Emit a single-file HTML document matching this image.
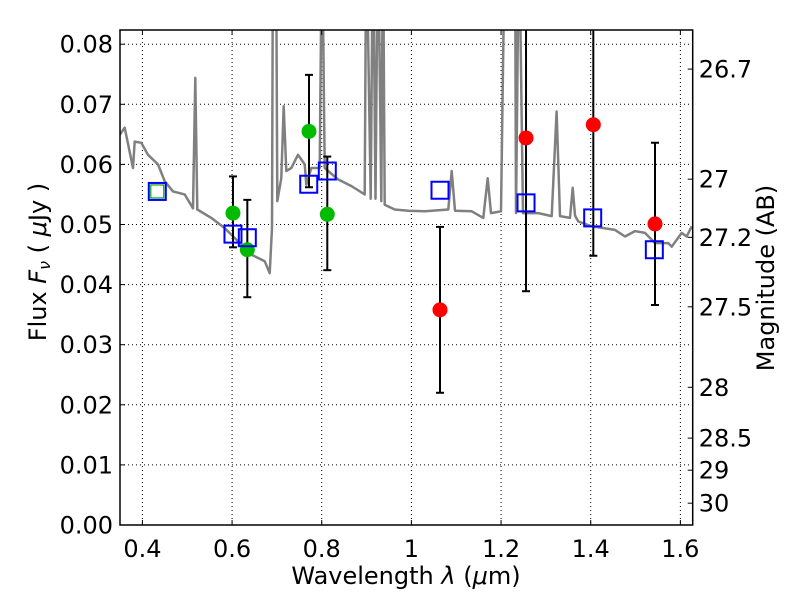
<!DOCTYPE html>
<html><head><meta charset="utf-8"><style>
body{margin:0;background:#fff}
svg text{font-family:"DejaVu Sans","Liberation Sans",sans-serif;fill:#000}
</style></head><body>
<svg id="chart" width="800" height="600" xmlns="http://www.w3.org/2000/svg"></svg>
<script>
const specLam=[0.349,0.3605,0.379,0.3828,0.3975,0.4125,0.4348,0.4497,0.4682,0.4943,0.5128,0.518,0.5224,0.5537,0.5835,0.6132,0.6429,0.6728,0.6839,0.689,0.6913,0.698,0.7009,0.7098,0.7152,0.721,0.7321,0.7471,0.762,0.7656,0.7767,0.7955,0.8006,0.8066,0.8363,0.866,0.8958,0.8994,0.9092,0.9144,0.92,0.9255,0.9329,0.9367,0.9404,0.9628,0.9924,1.0303,1.0823,1.0898,1.0973,1.1345,1.1604,1.1702,1.1776,1.1999,1.2088,1.2311,1.2333,1.24,1.249,1.2831,1.3129,1.324,1.3315,1.3538,1.3598,1.365,1.3723,1.4022,1.4542,1.4765,1.4988,1.5211,1.5434,1.5731,1.5806,1.6029,1.614,1.6252];
const specFlux=[0.0649,0.0661,0.0594,0.0638,0.0636,0.0616,0.0600,0.0572,0.0555,0.0550,0.0527,0.0744,0.0525,0.0511,0.0494,0.0472,0.0450,0.0439,0.0419,0.0494,0.1,0.1,0.0539,0.0577,0.0697,0.0589,0.0594,0.0616,0.0600,0.0566,0.0594,0.0594,0.1,0.0594,0.0575,0.0564,0.0550,0.1,0.0543,0.1,0.0543,0.1,0.0539,0.1,0.0533,0.0525,0.0523,0.0522,0.0525,0.0589,0.0523,0.0522,0.0511,0.0577,0.0519,0.0522,0.1,0.1,0.0519,0.1,0.0519,0.0519,0.0514,0.0688,0.0514,0.0511,0.0561,0.0515,0.0505,0.0497,0.0491,0.0480,0.0489,0.0486,0.0469,0.0469,0.0463,0.0486,0.0480,0.0497];
const greenLam=[0.602,0.634,0.7716,0.8124];
const greenFlux=[0.0519,0.0458,0.0655,0.0517];
const greenHi=[0.0580,0.0541,0.0749,0.0613];
const greenLo=[0.0462,0.0379,0.0562,0.0424];
const redLam=[1.0638,1.2557,1.4058,1.5434];
const redFlux=[0.0358,0.0644,0.0666,0.0501];
const redHi=[0.0496,0.09,0.09,0.0636];
const redLo=[0.0220,0.0389,0.0448,0.0366];
const modelLam=[0.4332,0.602,0.634,0.771,0.8124,1.0638,1.2557,1.4044,1.5419];
const modelFlux=[0.0555,0.0484,0.0478,0.0567,0.0589,0.0557,0.0536,0.0511,0.0458];
const greenSqLam=[0.4332];
const greenSqFlux=[0.0555];
const xTicks=[0.4,0.6,0.8,1.0,1.2,1.4,1.6];
const xTickLabels=["0.4","0.6","0.8","1","1.2","1.4","1.6"];
const yTicks=[0,0.01,0.02,0.03,0.04,0.05,0.06,0.07,0.08];
const yTickLabels=["0.00","0.01","0.02","0.03","0.04","0.05","0.06","0.07","0.08"];
const magTicks=[26.7,27,27.2,27.5,28,28.5,29,30];
const magTickLabels=["26.7","27","27.2","27.5","28","28.5","29","30"];

const L=120,R=692.7,T=30,B=525;
const xmin=0.35,xmax=0.35+(R-L)/448.3,ymin=0,ymax=(B-T)/6010;
const X=v=>L+(v-xmin)/(xmax-xmin)*(R-L);
const Y=v=>B-(v-ymin)/(ymax-ymin)*(B-T);
const svg=document.getElementById('chart');
const NS='http://www.w3.org/2000/svg';
function mk(tag,attrs,parent){const e=document.createElementNS(NS,tag);for(const k in attrs)e.setAttribute(k,attrs[k]);(parent||svg).appendChild(e);return e;}

const defs=mk('defs',{});
const cp=mk('clipPath',{id:'clip'},defs);
mk('rect',{x:L,y:T,width:R-L,height:B-T},cp);

const grid=mk('g',{});


xTicks.forEach(t=>{mk('line',{x1:X(t),x2:X(t),y1:T,y2:B,stroke:'#000','stroke-width':1,'stroke-dasharray':'1,3'},grid);});
yTicks.forEach(t=>{if(t>0)mk('line',{x1:L,x2:R,y1:Y(t),y2:Y(t),stroke:'#000','stroke-width':1,'stroke-dasharray':'1,3'},grid);});

const plot=mk('g',{'clip-path':'url(#clip)'});


let d='';specLam.forEach((l,i)=>{d+=(i?'L':'M')+X(l).toFixed(1)+','+Y(specFlux[i]).toFixed(1);});
const sp=mk('path',{d:d,fill:'none',stroke:'#808080','stroke-width':2.5,'stroke-linejoin':'round'},plot);



function errbars(lams,hi,lo,name){
  lams.forEach((l,i)=>{
    const g=mk('g',{},plot);
    
    
    const x=X(l);
    mk('line',{x1:x,x2:x,y1:Y(hi[i]),y2:Y(lo[i]),stroke:'#000','stroke-width':2},g);
    mk('line',{x1:x-4,x2:x+4,y1:Y(hi[i]),y2:Y(hi[i]),stroke:'#000','stroke-width':2},g);
    mk('line',{x1:x-4,x2:x+4,y1:Y(lo[i]),y2:Y(lo[i]),stroke:'#000','stroke-width':2},g);
  });
}
errbars(greenLam,greenHi,greenLo,'green-error-bar');
errbars(redLam,redHi,redLo,'red-error-bar');

greenLam.forEach((l,i)=>{
  const c=mk('circle',{cx:X(l),cy:Y(greenFlux[i]),r:7.5,fill:'#00bb00'},plot);
  
  
});
redLam.forEach((l,i)=>{
  const c=mk('circle',{cx:X(l),cy:Y(redFlux[i]),r:7.5,fill:'#ff0000'},plot);
  
  
});
greenSqLam.forEach((l,i)=>{
  const s=mk('rect',{x:X(l)-6.5,y:Y(greenSqFlux[i])-6.5,width:13,height:13,fill:'none',stroke:'#00aa00','stroke-width':1.2},plot);
  
  
});
modelLam.forEach((l,i)=>{
  const s=mk('rect',{x:X(l)-8.5,y:Y(modelFlux[i])-8.5,width:17,height:17,fill:'none',stroke:'#0000ff','stroke-width':2},plot);
  
  
});

const fr=mk('rect',{x:L,y:T,width:R-L,height:B-T,fill:'none',stroke:'#000','stroke-width':1.5});



xTicks.forEach((t,i)=>{
  mk('line',{x1:X(t),x2:X(t),y1:B,y2:B-5,stroke:'#000'});
  mk('line',{x1:X(t),x2:X(t),y1:T,y2:T+5,stroke:'#000'});
  const tx=mk('text',{x:X(t),y:B+32,'font-size':24,'text-anchor':'middle'});
  tx.textContent=xTickLabels[i];
  
  
});
yTicks.forEach((t,i)=>{
  mk('line',{x1:L,x2:L+5,y1:Y(t),y2:Y(t),stroke:'#000'});
  const tx=mk('text',{x:L-7,y:Y(t)+8.5,'font-size':24,'text-anchor':'end'});
  tx.textContent=yTickLabels[i];
  
  
});
magTicks.forEach((m,i)=>{
  const f=Math.pow(10,(23.9-m)/2.5);
  const y=Y(f);
  mk('line',{x1:R,x2:R-5,y1:y,y2:y,stroke:'#000'});
  const tx=mk('text',{x:R+6,y:y+8.5,'font-size':24,'text-anchor':'start'});
  tx.textContent=magTickLabels[i];
  
  
});

const xl=mk('text',{x:406,y:584,'font-size':24,'text-anchor':'middle'});
xl.innerHTML='Wavelength  <tspan font-style="italic">λ</tspan> (<tspan font-style="italic">μ</tspan>m)';


const yl=mk('text',{x:0,y:0,'font-size':24,'text-anchor':'middle',transform:'translate(46,262) rotate(-90)'});
yl.innerHTML='Flux  <tspan font-style="italic">F</tspan><tspan font-style="italic" font-size="16" dy="4">ν</tspan><tspan dy="-4">  (  </tspan><tspan font-style="italic">μ</tspan>Jy )';


const rl=mk('text',{x:0,y:0,'font-size':24,'text-anchor':'middle',transform:'translate(774,278) rotate(-90)'});
rl.textContent='Magnitude (AB)';


</script>
</body></html>
